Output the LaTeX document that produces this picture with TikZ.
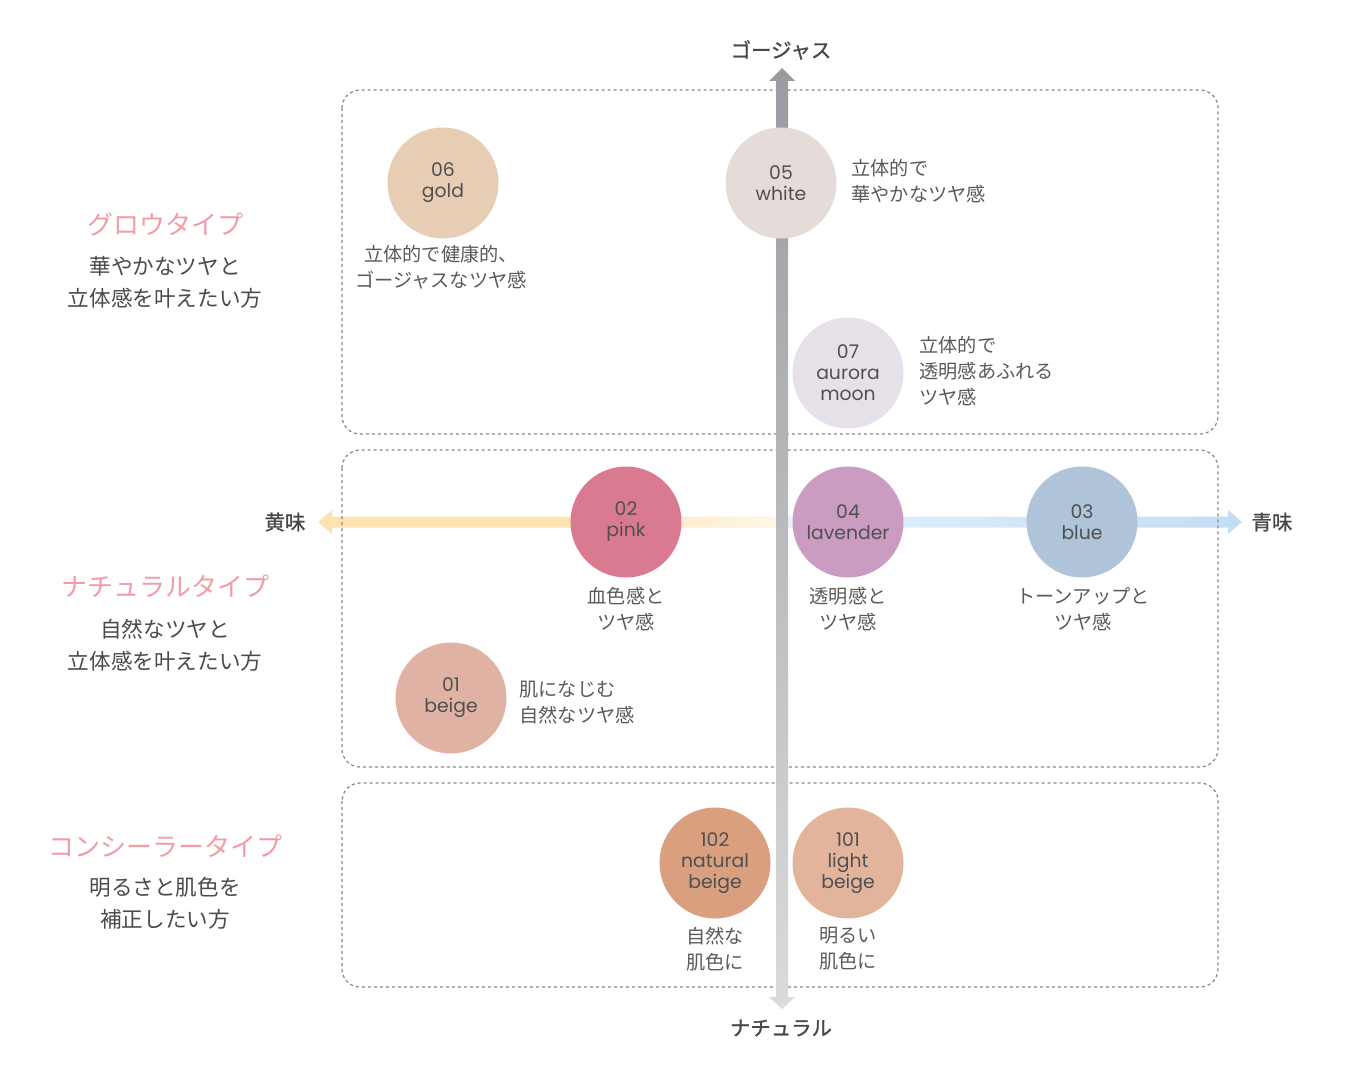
\documentclass[tikz,border=0pt]{standalone}
\usepackage{fontspec}
\setmainfont{Poppins}
\newfontfamily\jp{Noto Sans CJK JP}
\newfontfamily\jpb[FakeBold=1]{Noto Sans CJK JP}
\definecolor{chiptext}{HTML}{505050}
\definecolor{desctext}{HTML}{5A5A5A}
\definecolor{typetext}{HTML}{4A4A4A}
\definecolor{axtext}{HTML}{474747}
\definecolor{headpink}{HTML}{F29CA6}
\definecolor{zonegray}{HTML}{8A8A8A}
\definecolor{axdark}{HTML}{9A9BA0}
\definecolor{axmid}{HTML}{C3C4C7}
\definecolor{axlight}{HTML}{DADBDD}
\definecolor{axyel}{HTML}{FDE3B2}
\definecolor{axyelpale}{HTML}{FEF7E8}
\definecolor{axbluepale}{HTML}{E6F2FC}
\definecolor{axblue}{HTML}{C3DDF3}
\definecolor{cgold}{HTML}{E6CDB3}
\definecolor{cwhite}{HTML}{E5DCD9}
\definecolor{caurora}{HTML}{E6E1E8}
\definecolor{cpink}{HTML}{D97A90}
\definecolor{clav}{HTML}{CB9BC2}
\definecolor{cblue}{HTML}{AFC4D8}
\definecolor{cbeige}{HTML}{E0B2A4}
\definecolor{cnat}{HTML}{D99F7F}
\definecolor{clight}{HTML}{E3B49C}
\pgfdeclarehorizontalshading{yelaxis}{100bp}{color(0bp)=(axyel); color(52bp)=(axyel); color(75bp)=(axyelpale); color(100bp)=(axyelpale)}
\newcommand\chipfont{\fontsize{9.4}{10.5}\selectfont}
\newcommand\descfont{\jp\fontsize{9.6}{13}\selectfont}
\newcommand\headfont{\jp\fontsize{13}{15}\selectfont}
\newcommand\typedescfont{\jp\fontsize{10.8}{16}\selectfont}
\newcommand\axfont{\jpb\fontsize{10.2}{12}\selectfont}
\tikzset{
  chip/.style={circle, minimum size=55.5pt, inner sep=0pt, font=\chipfont, text=chiptext, align=center},
  desc/.style={font=\descfont, text=desctext, align=center, inner sep=0pt},
  descl/.style={font=\descfont, text=desctext, align=left, anchor=west, inner sep=0pt},
  typehead/.style={font=\headfont, text=headpink, inner sep=0pt},
  typedesc/.style={font=\typedescfont, text=typetext, align=center, inner sep=0pt},
  axlabel/.style={font=\axfont, text=axtext, inner sep=0pt},
  zone/.style={draw=zonegray, line width=0.6pt, dash pattern=on 1.6pt off 1.4pt, rounded corners=9pt}
}
\begin{document}
\begin{tikzpicture}[x=0.5pt,y=-0.5pt]
\useasboundingbox (0,0) rectangle (1352,1080);
\fill[white] (0,0) rectangle (1352,1080);
% axis end points
\coordinate (vtop) at (782,68);
\coordinate (vbot) at (782,1009);
\coordinate (hleft) at (318,522);
\coordinate (hright) at (1242,522);
\coordinate (hmid) at (782,522);
% horizontal axis
\shade[shading=yelaxis] (hleft) -- (332,510) -- (332,516.5) -- (782,516.5) -- (782,527.5) -- (332,527.5) -- (332,534) -- cycle;
\shade[left color=axbluepale, right color=axblue] (782,516.5) -- (1228,516.5) -- (1228,510) -- (hright) -- (1228,534) -- (1228,527.5) -- (782,527.5) -- cycle;
% zones
\draw[zone] (342,90) rectangle (1218,434);
\draw[zone] (342,450) rectangle (1218,767);
\draw[zone] (342,783) rectangle (1218,987);
% vertical axis
\shade[top color=axdark, middle color=axmid, bottom color=axlight] (vtop) -- (795,81) -- (788,81) -- (788,997) -- (795,997) -- (vbot) -- (769,997) -- (776,997) -- (776,81) -- (769,81) -- cycle;
% axis labels
\node[axlabel] (lgor) at (781,50) {ゴージャス};
\node[axlabel] (lnat) at (781,1028) {ナチュラル};
\node[axlabel] (lyel) at (285,522) {黄味};
\node[axlabel] (lblu) at (1272,522) {青味};
% chips
\node[chip, fill=cgold] (c06) at (443,183) {06\\gold};
\node[chip, fill=cwhite] (c05) at (781,183) {05\\white};
\node[chip, fill=caurora] (c07) at (848,373) {07\\aurora\\moon};
\node[chip, fill=cpink] (c02) at (626,522) {02\\pink};
\node[chip, fill=clav] (c04) at (848,522) {04\\lavender};
\node[chip, fill=cblue] (c03) at (1082,522) {03\\blue};
\node[chip, fill=cbeige] (c01) at (451,698) {01\\beige};
\node[chip, fill=cnat] (c102) at (715,863) {102\\natural\\beige};
\node[chip, fill=clight] (c101) at (848,863) {101\\light\\beige};
% descriptions
\node[desc] (d06) at (441,267) {立体的で健康的、\\ゴージャスなツヤ感};
\node[descl] (d05) at (851,181) {立体的で\\華やかなツヤ感};
\node[descl] (d07) at (919,371) {立体的で\\透明感あふれる\\ツヤ感};
\node[desc] (d02) at (626,609) {血色感と\\ツヤ感};
\node[desc] (d04) at (848,609) {透明感と\\ツヤ感};
\node[desc] (d03) at (1083,609) {トーンアップと\\ツヤ感};
\node[descl] (d01) at (519,703) {肌になじむ\\自然なツヤ感};
\node[desc] (d102) at (715,949) {自然な\\肌色に};
\node[desc] (d101) at (848,949) {明るい\\肌色に};
% type labels
\node[typehead] (hglow) at (165,224) {グロウタイプ};
\node[typedesc] (tglow) at (165,282) {華やかなツヤと\\立体感を叶えたい方};
\node[typehead] (hnat) at (165,586) {ナチュラルタイプ};
\node[typedesc] (tnat) at (165,645) {自然なツヤと\\立体感を叶えたい方};
\node[typehead] (hcon) at (165,846) {コンシーラータイプ};
\node[typedesc] (tcon) at (165,903) {明るさと肌色を\\補正したい方};
\end{tikzpicture}
\end{document}
